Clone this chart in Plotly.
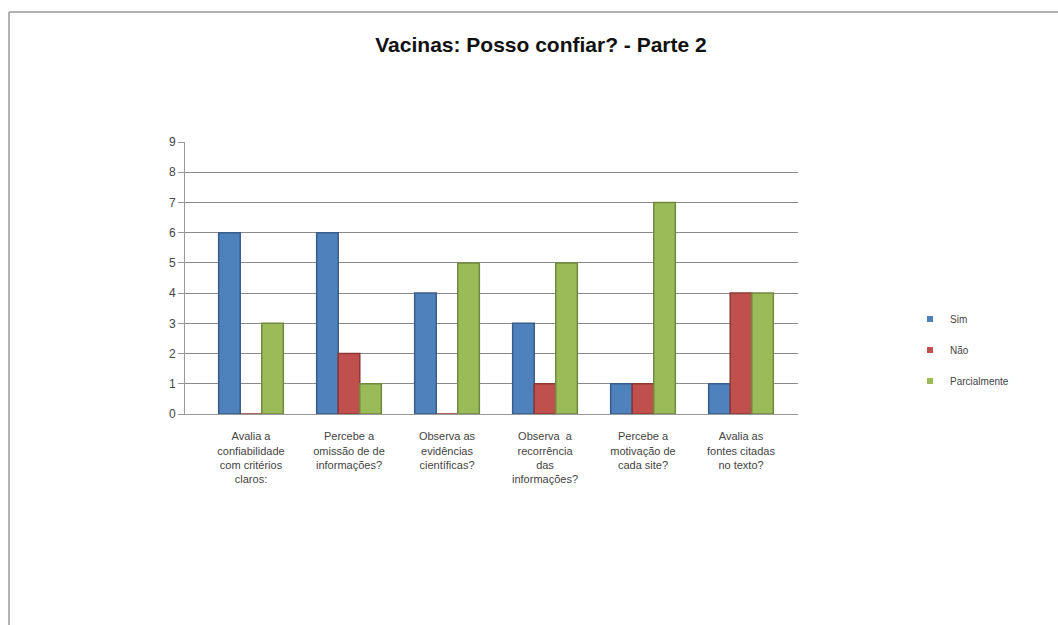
import plotly.graph_objects as go

categories = [
    "Avalia a<br>confiabilidade<br>com critérios<br>claros:",
    "Percebe a<br>omissão de de<br>informações?",
    "Observa as<br>evidências<br>científicas?",
    "Observa  a<br>recorrência<br>das<br>informações?",
    "Percebe a<br>motivação de<br>cada site?",
    "Avalia as<br>fontes citadas<br>no texto?",
]
sim = [6, 6, 4, 3, 1, 1]
nao = [0, 2, 0, 1, 1, 4]
parcial = [3, 1, 5, 5, 7, 4]
y_ticks = [0, 1, 2, 3, 4, 5, 6, 7, 8, 9]

series = [
    ("Sim", sim, "#4F81BD", "#385D8A"),
    ("Não", nao, "#C0504D", "#8C3836"),
    ("Parcialmente", parcial, "#9BBB59", "#71893F"),
]

W, H = 1058, 625
L, R, T, B = 185, 1058 - 798, 142, 625 - 414
pw = W - L - R
ph = H - T - B

fig = go.Figure()
for name, vals, col, edge in series:
    fig.add_trace(go.Bar(
        name=name, x=list(range(len(categories))), y=vals,
        marker=dict(color=col, line=dict(color=edge, width=1.5)),
        showlegend=False,
    ))
# legend entries with small square swatches
for name, vals, col, edge in series:
    fig.add_trace(go.Scatter(
        name=name, x=[None], y=[None], mode="markers",
        marker=dict(symbol="square", size=6, color=col),
        legendgroup=name, showlegend=True,
    ))

def px_x(p):
    return (p - L) / pw

def px_y(p):
    return (H - B - p) / ph

shapes = [
    dict(type="line", xref="paper", yref="paper", x0=px_x(9), x1=px_x(1058), y0=px_y(12), y1=px_y(12),
         line=dict(color="#9a9a9a", width=1.5)),
    dict(type="line", xref="paper", yref="paper", x0=px_x(9), x1=px_x(9), y0=px_y(12), y1=px_y(625),
         line=dict(color="#9a9a9a", width=1.5)),
]

spacing = 98.0
x0 = -(251 - L) / spacing
x1 = x0 + pw / spacing

fig.update_layout(
    width=W, height=H,
    margin=dict(l=L, r=R, t=T, b=B),
    paper_bgcolor="white", plot_bgcolor="white",
    title=dict(text="<b>Vacinas: Posso confiar? - Parte 2</b>", x=541 / W, xanchor="center",
               y=1 - 45 / H, yanchor="middle", xref="container", yref="container",
               font=dict(family="Liberation Sans, Arial", size=21, color="#111")),
    barmode="group", bargap=0.34, bargroupgap=0.0,
    font=dict(family="Liberation Sans, Arial", color="#444"),
    xaxis=dict(range=[x0, x1], tickvals=list(range(len(categories))), ticktext=categories,
               showgrid=False, showline=True, linecolor="#999", linewidth=1,
               ticks="", tickfont=dict(size=11, color="#444"), tickangle=0, zeroline=False,
               ticklabelstandoff=12),
    yaxis=dict(range=[0, 9], tickvals=y_ticks, showgrid=True, gridcolor="#8a8a8a", gridwidth=1,
               showline=True, linecolor="#999", linewidth=1, ticks="outside", tickcolor="#999",
               ticklen=6, tickfont=dict(size=12, color="#444"), zeroline=False),
    legend=dict(x=px_x(910), y=px_y(350), xanchor="left", yanchor="middle",
                font=dict(size=10, color="#444"), traceorder="grouped", tracegroupgap=12,
                itemwidth=30, bgcolor="rgba(0,0,0,0)"),
    shapes=shapes,
    showlegend=True,
)

fig.write_html("out.html", post_script="document.body.style.margin='0';",
               config={"displayModeBar": False})
